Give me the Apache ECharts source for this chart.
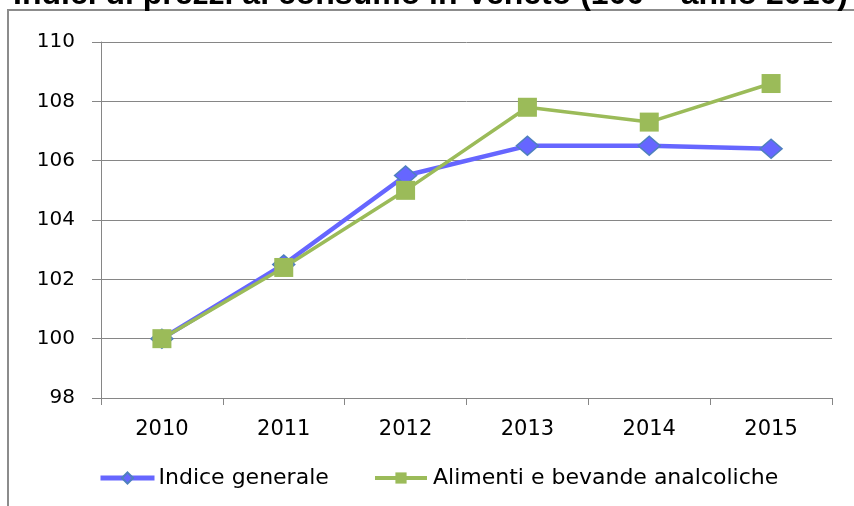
<!DOCTYPE html>
<html>
<head>
<meta charset="utf-8">
<script src="https://cdn.jsdelivr.net/npm/echarts@6/dist/echarts.min.js"></script>
<style>
  html, body { margin: 0; padding: 0; background: #fff; }
  #main { width: 854px; height: 506px; }
</style>
</head>
<body>
<div id="main"></div>
<script>
'use strict'
// anni e indici (100 = anno 2010)
var years = ['2010', '2011', '2012', '2013', '2014', '2015'];
var indiceGenerale = [100, 102.5, 105.5, 106.5, 106.5, 106.4];
var alimenti = [100, 102.4, 105.0, 107.8, 107.3, 108.6];
var seriesNames = ['Indice generale', 'Alimenti e bevande analcoliche'];
var titleText = 'Indici di prezzi al consumo in Veneto (100 = anno 2010)';

var colors = ['#6666ff', '#9bbb59'];
var wideFont = '"DejaVu Sans", sans-serif';

var option = {
    color: colors,
    animation: false,
    title: {
        text: titleText,
        left: 8,
        top: -26,
        textStyle: {
            fontFamily: '"Liberation Sans", Arial, sans-serif',
            fontWeight: 'bold',
            fontSize: 32,
            color: '#000'
        }
    },
    graphic: [
        {
            // cornice dell'area grafico
            type: 'polyline',
            shape: { points: [[8, 506], [8, 10], [854, 10]] },
            style: { stroke: '#8c8c8c', lineWidth: 2, fill: null }
        }
    ],
    legend: [
        {
            data: [seriesNames[0]],
            left: 98,
            top: 467,
            padding: 0,
            itemWidth: 54,
            itemHeight: 14,
            itemGap: 0,
            lineStyle: { width: 5 },
            textStyle: { fontFamily: wideFont, fontSize: 22, color: '#000', padding: [0, 0, 0, -1] }
        },
        {
            data: [seriesNames[1]],
            left: 373,
            top: 467,
            padding: 0,
            itemWidth: 52,
            itemHeight: 14,
            itemGap: 0,
            lineStyle: { width: 4 },
            textStyle: { fontFamily: wideFont, fontSize: 22, color: '#000', padding: [0, 0, 0, 1] }
        }
    ],
    grid: {
        left: 101,
        right: 22,
        top: 42,
        bottom: 108
    },
    xAxis: {
        type: 'category',
        data: years,
        boundaryGap: true,
        axisLine: { lineStyle: { color: '#868686', width: 1 } },
        axisTick: { show: true, length: 7, lineStyle: { color: '#868686' } },
        axisLabel: {
            margin: 21,
            fontFamily: wideFont,
            fontSize: 21,
            color: '#000'
        },
        splitLine: { show: false }
    },
    yAxis: {
        type: 'value',
        min: 98,
        max: 110,
        interval: 2,
        axisLine: { show: true, lineStyle: { color: '#868686', width: 1 } },
        axisTick: { show: true, length: 9, lineStyle: { color: '#868686' } },
        axisLabel: {
            margin: 26,
            fontFamily: wideFont,
            fontSize: 20,
            color: '#000'
        },
        splitLine: { lineStyle: { color: '#868686', width: 1 } }
    },
    series: [
        {
            name: seriesNames[0],
            type: 'line',
            data: indiceGenerale,
            symbol: 'diamond',
            symbolSize: [22, 19],
            lineStyle: { width: 4.5, color: colors[0] },
            itemStyle: { color: colors[0], borderColor: '#4f81bd', borderWidth: 1.5 }
        },
        {
            name: seriesNames[1],
            type: 'line',
            data: alimenti,
            symbol: 'rect',
            symbolSize: 19,
            lineStyle: { width: 3.5, color: colors[1] },
            itemStyle: { color: colors[1] }
        }
    ]
};

var myChart = echarts.init(document.getElementById('main'));
myChart.setOption(option);
</script>
</body>
</html>
